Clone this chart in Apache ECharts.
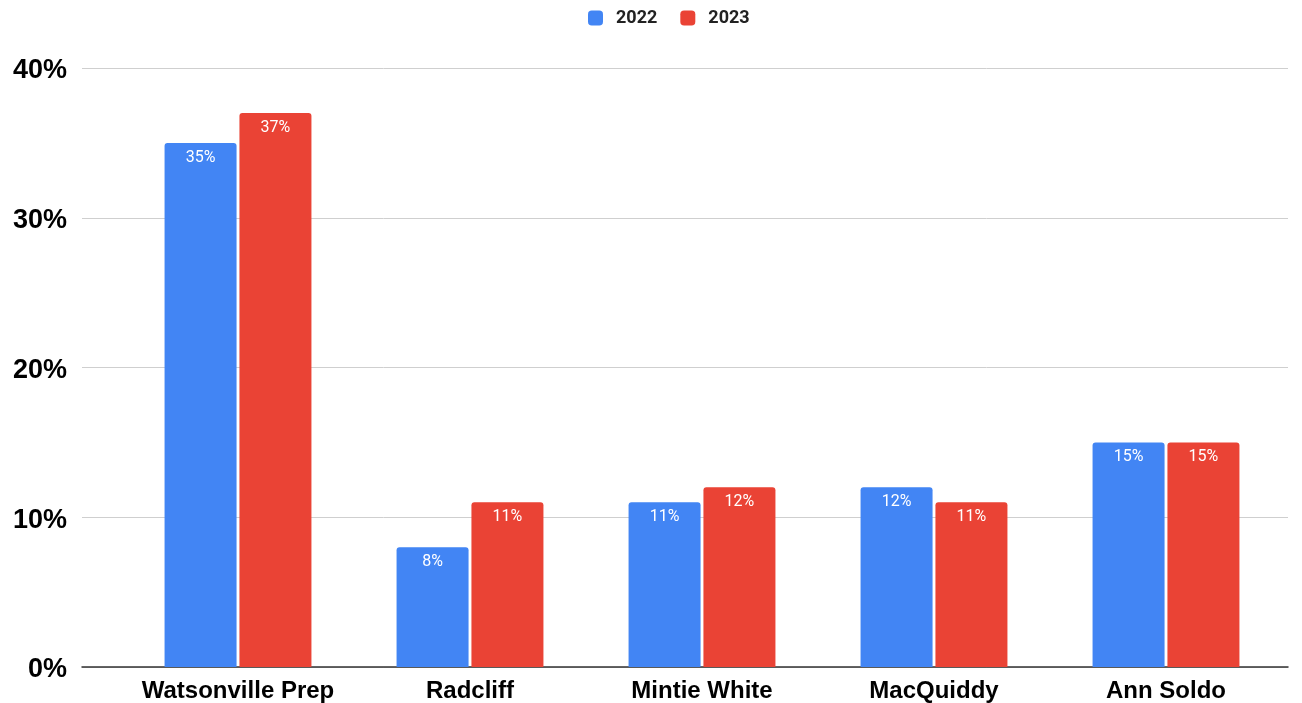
<!DOCTYPE html>
<html>
<head>
<meta charset="utf-8">
<script src="https://cdn.jsdelivr.net/npm/echarts@6/dist/echarts.min.js"></script>
<style>html,body{margin:0;padding:0;background:#fff}#c{width:1302px;height:703px}</style>
</head>
<body>
<div id="c"></div>
<script>
const categories = ['Watsonville Prep', 'Radcliff', 'Mintie White', 'MacQuiddy', 'Ann Soldo'];
const values2022 = [35, 8, 11, 12, 15];
const values2023 = [37, 11, 12, 11, 15];
const seriesNames = ['2022', '2023'];
const yTicks = [0, 10, 20, 30, 40];

const chart = echarts.init(document.getElementById('c'), null, {renderer: 'canvas'});
const labelCfg = {
  show: true, position: 'insideTop', distance: 7, color: '#fff',
  fontFamily: 'Roboto', fontSize: 16, formatter: p => p.value + '%'
};
chart.setOption({
  animation: false,
  legend: {
    data: seriesNames, top: 4, left: 583,
    icon: 'roundRect', itemWidth: 15, itemHeight: 15, itemGap: 23,
    textStyle: {fontFamily: 'Roboto', fontSize: 18, fontWeight: 'bold', color: '#222', padding: [0, 0, 0, 8]}
  },
  grid: [
    {left: 82, right: 14, top: 68, bottom: 36},
    {left: 122, right: 20, top: 68, bottom: 36}
  ],
  xAxis: [
    {gridIndex: 0, type: 'category', data: categories, axisLine: {show: true, lineStyle: {color: '#333', width: 1.5}},
     axisTick: {show: false}, axisLabel: {show: false}, splitLine: {show: false}},
    {gridIndex: 1, type: 'category', data: categories, axisLine: {show: false}, axisTick: {show: false},
     axisLabel: {interval: 0, fontFamily: 'Liberation Sans', fontSize: 24, fontWeight: 'bold', color: '#000', margin: 12}}
  ],
  yAxis: [
    {gridIndex: 0, type: 'value', min: yTicks[0], max: yTicks[yTicks.length - 1], interval: 10,
     axisLine: {show: false}, axisTick: {show: false},
     axisLabel: {formatter: '{a|{value}%}', margin: 15,
       rich: {a: {fontFamily: 'Liberation Sans', fontSize: 27, fontWeight: 'bold', color: '#000', padding: [6, 0, 0, 0]}}},
     splitLine: {lineStyle: {color: '#cfcfcf', width: 1}}},
    {gridIndex: 1, type: 'value', min: yTicks[0], max: yTicks[yTicks.length - 1], interval: 10, show: false,
     splitLine: {show: false}}
  ],
  series: [
    {name: seriesNames[0], type: 'bar', xAxisIndex: 1, yAxisIndex: 1, data: values2022,
     barWidth: 72, barGap: '4%', itemStyle: {color: '#4285F4', borderRadius: [3, 3, 0, 0]}, label: labelCfg},
    {name: seriesNames[1], type: 'bar', xAxisIndex: 1, yAxisIndex: 1, data: values2023,
     barWidth: 72, barGap: '4%', itemStyle: {color: '#EA4335', borderRadius: [3, 3, 0, 0]}, label: labelCfg}
  ]
});
</script>
</body>
</html>
